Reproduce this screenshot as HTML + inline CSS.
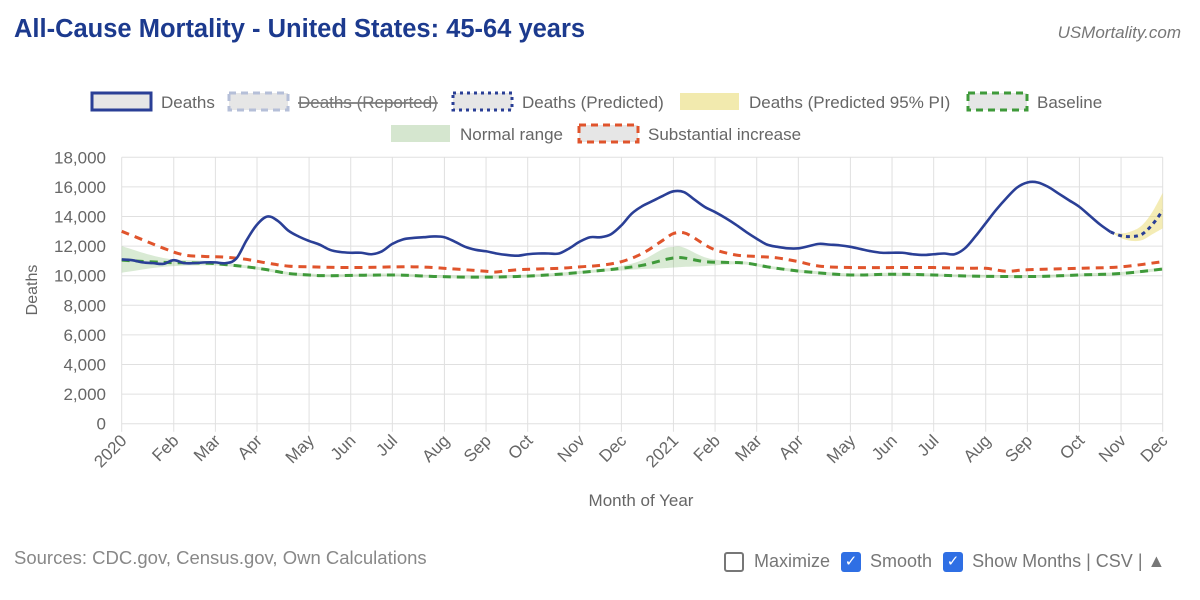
<!DOCTYPE html>
<html><head><meta charset="utf-8">
<style>
body{margin:0;width:1200px;height:600px;background:#fff;font-family:"Liberation Sans",Arial,sans-serif;overflow:hidden;position:relative}
.t{position:absolute;white-space:nowrap}
</style></head>
<body>
<div class="t" style="left:14px;top:15px;font-size:25.5px;font-weight:bold;color:#1c3a8e">All-Cause Mortality - United States: 45-64 years</div>
<div class="t" style="right:19px;top:23px;font-size:17px;font-style:italic;color:#777">USMortality.com</div>
<div class="t" style="left:14px;top:547px;font-size:18.5px;color:#888">Sources: CDC.gov, Census.gov, Own Calculations</div>
<div class="t" style="left:724px;top:551px;font-size:18px;color:#777;display:flex;align-items:center">
<span style="display:inline-block;width:16px;height:16px;border:2px solid #777;border-radius:3px;margin-right:10px"></span><span style="margin-right:11px">Maximize</span>
<span style="display:inline-block;width:20px;height:20px;background:#2f6fe4;border-radius:3px;margin-right:9px;color:#fff;font-size:15px;text-align:center;line-height:20px">✓</span><span style="margin-right:11px">Smooth</span>
<span style="display:inline-block;width:20px;height:20px;background:#2f6fe4;border-radius:3px;margin-right:9px;color:#fff;font-size:15px;text-align:center;line-height:20px">✓</span><span>Show Months |</span><span>&nbsp;CSV</span><span>&nbsp;|</span><span>&nbsp;▲</span>
</div>
<svg id="c" width="1200" height="600" style="position:absolute;left:0;top:0"></svg>
<script>
const NS='http://www.w3.org/2000/svg';
const svg=document.getElementById('c');
const tickWeeks=[0,5,9,13,18,22,26,31,35,39,44,48,53,57,61,65,70,74,78,83,87,92,96,100];
const tickLabels=['2020','Feb','Mar','Apr','May','Jun','Jul','Aug','Sep','Oct','Nov','Dec','2021','Feb','Mar','Apr','May','Jun','Jul','Aug','Sep','Oct','Nov','Dec'];
const yTicks=[0,2000,4000,6000,8000,10000,12000,14000,16000,18000];
const deathWeeks=[0,1,2,3,4,5,6,7,8,9,10,11,12,13,14,15,16,17,18,19,20,21,22,23,24,25,26,27,28,29,30,31,32,33,34,35,36,37,38,39,40,41,42,43,44,45,46,47,48,49,50,51,52,53,54,55,56,57,58,59,60,61,62,63,64,65,66,67,68,69,70,71,72,73,74,75,76,77,78,79,80,81,82,83,84,85,86,87,88,89,90,91,92,93,94,95];
const deaths=[11100,11050,10900,10850,10800,11050,10850,10850,10900,10900,10850,11150,12400,13450,14000,13700,13050,12650,12350,12100,11750,11600,11550,11550,11450,11650,12150,12450,12550,12600,12650,12600,12300,11950,11750,11650,11500,11400,11350,11450,11500,11500,11500,11850,12300,12600,12600,12800,13400,14200,14700,15050,15400,15700,15650,15150,14650,14300,13900,13450,12950,12500,12100,11950,11850,11850,12000,12150,12100,12050,11950,11800,11650,11550,11550,11550,11450,11400,11450,11500,11450,11850,12650,13550,14450,15250,15950,16300,16300,16000,15550,15100,14650,14050,13450,12950];
const predWeeks=[95,96,97,98,99,100];
const predicted=[12950,12700,12650,12800,13450,14400];
const piUpper=[12950,12850,13000,13400,14300,15600];
const piLower=[12950,12550,12350,12400,12800,13200];
const subWeeks=[0,2,4,6,8,10,12,14,16,18,22,28,32,35,36,38,42,44,46,48,50,52,53,54,55,56,57,59,61,63,65,67,70,74,78,81,83,85,87,92,96,100];
const substantial=[13000,12430,11860,11400,11300,11250,11100,10850,10650,10600,10550,10600,10450,10300,10250,10400,10500,10600,10700,10950,11500,12400,12850,12900,12550,12100,11750,11400,11300,11200,10950,10650,10550,10550,10550,10500,10500,10300,10400,10500,10600,10950];
const baseWeeks=[0,4,8,10,12,14,16,18,20,26,30,34,38,42,46,48,50,52,53,54,56,58,60,62,64,66,70,74,78,80,84,88,92,96,100];
const baseline=[11050,10900,10850,10750,10600,10400,10150,10050,10000,10050,9950,9900,9950,10100,10350,10500,10700,11050,11200,11200,10950,10900,10850,10600,10400,10250,10050,10100,10050,10000,9950,9950,10050,10150,10450];
const normUpper=[12000,11200,11000,10850,10700,10500,10250,10150,10100,10150,10050,10000,10050,10200,10450,10650,11050,11800,11950,11900,11250,11000,10950,10700,10500,10350,10150,10200,10150,10100,10050,10050,10150,10250,10550];
const normLower=[10200,10600,10700,10650,10500,10300,10050,9950,9900,9950,9850,9800,9850,10000,10250,10350,10450,10500,10550,10600,10650,10750,10750,10500,10300,10150,9950,10000,9950,9900,9850,9850,9950,10050,10350];

const X0=121.7,XW=10.41,Y0=423.7,YS=0.01480;
const xs=w=>X0+w*XW, ys=v=>Y0-v*YS;
function el(tag,attrs,parent){const e=document.createElementNS(NS,tag);for(const k in attrs)e.setAttribute(k,attrs[k]);(parent||svg).appendChild(e);return e;}
function smooth(pts){let d='M'+pts[0][0]+','+pts[0][1];for(let i=0;i<pts.length-1;i++){const p0=pts[i-1]||pts[i],p1=pts[i],p2=pts[i+1],p3=pts[i+2]||p2;const t=0.35/2;d+=' C'+(p1[0]+(p2[0]-p0[0])*t)+','+(p1[1]+(p2[1]-p0[1])*t)+' '+(p2[0]-(p3[0]-p1[0])*t)+','+(p2[1]-(p3[1]-p1[1])*t)+' '+p2[0]+','+p2[1];}return d;}
function pts(ws,vs){return ws.map((w,i)=>[xs(w),ys(vs[i])]);}
yTicks.forEach(v=>{const g=el('line',{x1:X0,x2:xs(100),y1:ys(v),y2:ys(v),stroke:'#e0e0e0','stroke-width':1});

const t=el('text',{x:106,y:ys(v)+6,'text-anchor':'end','font-size':17,fill:'#666'});t.textContent=v.toLocaleString('en-US');
});
tickWeeks.forEach((w,i)=>{const g=el('line',{x1:xs(w),x2:xs(w),y1:ys(18000),y2:ys(0)+8,stroke:'#e0e0e0','stroke-width':1});

const t=el('text',{x:0,y:0,'text-anchor':'end','font-size':17,fill:'#666',transform:'translate('+(xs(w)+6)+','+(ys(0)+18)+') rotate(-45)'});t.textContent=tickLabels[i];
});
const up=pts(baseWeeks,normUpper),lo=pts(baseWeeks,normLower).reverse();
let bd=smooth(up)+' L'+lo[0][0]+','+lo[0][1]+smooth(lo).slice(smooth(lo).indexOf(' '))+' Z';
const band=el('path',{d:bd,fill:'rgba(120,180,100,0.28)'});

const pu=pts(predWeeks,piUpper),pl=pts(predWeeks,piLower).reverse();
let pd=smooth(pu)+' L'+pl[0][0]+','+pl[0][1]+smooth(pl).slice(smooth(pl).indexOf(' '))+' Z';
const pib=el('path',{d:pd,fill:'rgba(235,220,120,0.55)'});

const sl=el('path',{d:smooth(pts(subWeeks,substantial)),fill:'none',stroke:'#e0542c','stroke-width':3,'stroke-dasharray':'8 6'});

const bl=el('path',{d:smooth(pts(baseWeeks,baseline)),fill:'none',stroke:'#3f9a3a','stroke-width':3,'stroke-dasharray':'8 6'});

const dl=el('path',{d:smooth(pts(deathWeeks,deaths)),fill:'none',stroke:'#2a3f96','stroke-width':2.6});

const pl2=el('path',{d:smooth(pts(predWeeks,predicted)),fill:'none',stroke:'#2a3f96','stroke-width':3,'stroke-dasharray':'4 4'});

const yt=el('text',{x:0,y:0,'text-anchor':'middle','font-size':16,fill:'#666',transform:'translate(37,290) rotate(-90)'});yt.textContent='Deaths';

const xt=el('text',{x:641,y:506,'text-anchor':'middle','font-size':17,fill:'#666'});xt.textContent='Month of Year';

const legend=[
 [92,93,'Deaths',{fill:'#e6e6e6',stroke:'#2a3f96','stroke-width':3},'legend-deaths',false],
 [229,93,'Deaths (Reported)',{fill:'#e6e6e6',stroke:'#b5bfd8','stroke-width':3,'stroke-dasharray':'7 5'},'legend-deaths-reported',true],
 [453,93,'Deaths (Predicted)',{fill:'#e6e6e6',stroke:'#2a3f96','stroke-width':3,'stroke-dasharray':'3 4'},'legend-deaths-predicted',false],
 [680,93,'Deaths (Predicted 95% PI)',{fill:'#f2eaae',stroke:'none'},'legend-predicted-pi',false],
 [968,93,'Baseline',{fill:'#e6e6e6',stroke:'#3f9a3a','stroke-width':3,'stroke-dasharray':'7 5'},'legend-baseline',false],
 [391,125,'Normal range',{fill:'#d5e6cf',stroke:'none'},'legend-normal-range',false],
 [579,125,'Substantial increase',{fill:'#e6e6e6',stroke:'#e0542c','stroke-width':3,'stroke-dasharray':'7 5'},'legend-substantial-increase',false]];
legend.forEach(l=>{const g=el('g',{});

el('rect',Object.assign({x:l[0],y:l[1],width:59,height:17},l[3]),g);
const t=el('text',{x:l[0]+69,y:l[1]+15,'font-size':17,fill:l[5]?'#777':'#666'},g);t.textContent=l[2];
if(l[5])t.setAttribute('text-decoration','line-through');});
</script>
</body></html>
